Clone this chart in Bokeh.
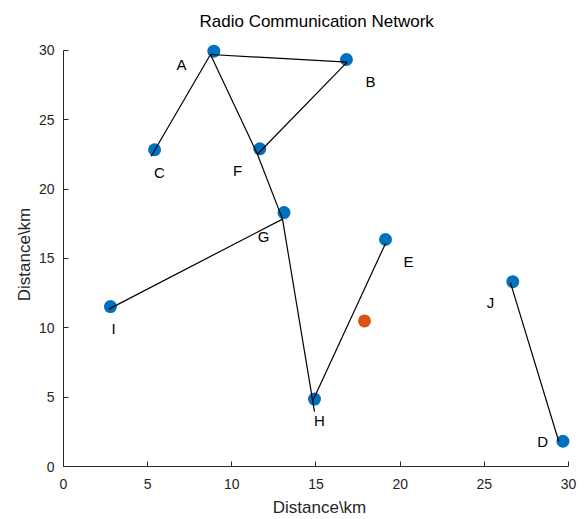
from bokeh.plotting import figure
from bokeh.models import Range1d, FixedTicker, ColumnDataSource
from bokeh.core.properties import value
from bokeh.embed import file_html
from bokeh.resources import INLINE

TITLE = "Radio Communication Network"

# Nodes (marker positions)
node_names = ["A", "B", "C", "D", "E", "F", "G", "H", "I", "J"]
node_x = [8.93, 16.81, 5.41, 29.67, 19.13, 11.66, 13.10, 14.91, 2.79, 26.69]
node_y = [29.95, 29.35, 22.84, 1.82, 16.37, 22.91, 18.31, 4.86, 11.53, 13.33]

# Label positions
label_x = [7.01, 18.24, 5.70, 28.46, 20.50, 10.34, 11.88, 15.21, 2.97, 25.37]
label_y = [29.00, 27.77, 21.22, 1.80, 14.75, 21.37, 16.62, 3.31, 9.93, 11.80]

# Extra (orange) point
extra_x = [17.88]
extra_y = [10.50]

# Link segments
seg_x0 = [5.21, 8.73, 16.85, 8.73, 11.52, 13.01, 13.01, 14.79, 26.55]
seg_y0 = [22.37, 29.71, 29.16, 29.71, 22.52, 17.84, 17.84, 4.68, 13.26]
seg_x1 = [8.73, 16.85, 11.52, 11.52, 13.01, 2.69, 14.91, 19.13, 29.42]
seg_y1 = [29.71, 29.16, 22.52, 22.52, 17.84, 11.35, 3.96, 16.09, 1.82]

xticks = [0, 5, 10, 15, 20, 25, 30]
yticks = [0, 5, 10, 15, 20, 25, 30]

FONT = "Liberation Sans"
AX = "#262626"

p = figure(width=585, height=519, output_backend="svg", toolbar_location=None,
           x_range=Range1d(0, 30.416), y_range=Range1d(0, 30.576),
           title=TITLE,
           min_border_left=63, min_border_right=10, min_border_top=42, min_border_bottom=52)
p.outline_line_color = None
p.grid.visible = False
p.background_fill_color = "white"
p.border_fill_color = "white"

p.title.align = "left"
p.title.offset = 136
p.title.vertical_align = "top"
p.title.text_font = FONT
p.title.text_font_size = "17px"
p.title.text_font_style = "normal"
p.title.text_color = "#000000"
p.title.standoff = 19

for ax, ticks in ((p.xaxis, xticks), (p.yaxis, yticks)):
    ax.ticker = FixedTicker(ticks=ticks)
    ax.bounds = (0, 30)
    ax.axis_line_color = AX
    ax.major_tick_line_color = AX
    ax.major_tick_in = 5
    ax.major_tick_out = 0
    ax.minor_tick_line_color = None
    ax.major_label_text_font = FONT
    ax.major_label_text_font_size = "14px"
    ax.major_label_text_color = AX
    ax.axis_label_text_font = FONT
    ax.axis_label_text_font_size = "17px"
    ax.axis_label_text_font_style = "normal"
    ax.axis_label_text_color = AX

p.xaxis.major_label_standoff = 12
p.xaxis.axis_label_standoff = 6
p.yaxis.major_label_standoff = 9
p.yaxis.axis_label_standoff = 2

p.xaxis.axis_label = "Distance\\km"
p.yaxis.axis_label = "Distance\\km"

nodes = ColumnDataSource(dict(x=node_x, y=node_y))
p.scatter("x", "y", source=nodes, size=13, fill_color="#0072BD", line_color=None)
p.scatter(extra_x, extra_y, size=13, fill_color="#D95319", line_color=None)

p.segment(seg_x0, seg_y0, seg_x1, seg_y1, line_color="black", line_width=1.2)

labels = ColumnDataSource(dict(x=label_x, y=label_y, t=node_names))
p.text("x", "y", text="t", source=labels, text_align="center", text_baseline="middle",
       text_font=value(FONT), text_font_size="15px", text_color="#000000")

open("out.html", "w").write(file_html(p, INLINE))
